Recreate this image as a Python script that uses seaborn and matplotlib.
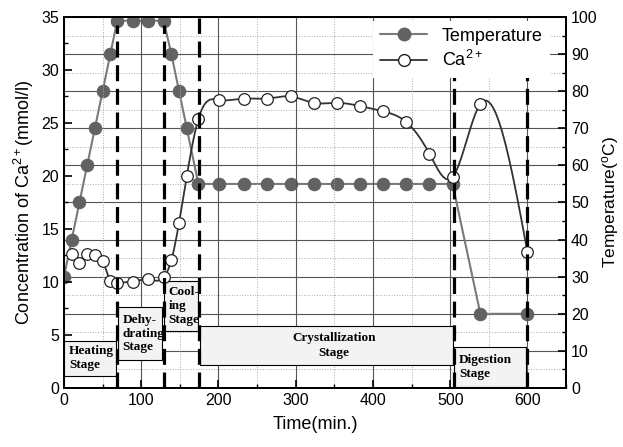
import matplotlib as mpl
import matplotlib.pyplot as plt
import numpy as np
import pandas as pd
import seaborn as sns
from matplotlib.lines import Line2D
from matplotlib.patches import Rectangle
from matplotlib.ticker import MultipleLocator

mpl.use('Agg')

# temperature values (right axis, degC)
temp_time = [0, 10, 20, 30, 40, 50, 60, 69, 89, 109, 129, 139, 149, 159, 174,
             201, 233, 263, 294, 323, 354, 383, 413, 443, 473, 503, 539, 600]
temp_value = [30, 40, 50, 60, 70, 80, 90, 99, 99, 99, 99, 90, 80, 70, 55,
              55, 55, 55, 55, 55, 55, 55, 55, 55, 55, 55, 20, 20]

# Ca2+ concentration (left axis, mmol/l)
ca_time = [10, 20, 30, 40, 50, 60, 69, 89, 109, 129, 139, 149, 159, 174,
           201, 233, 263, 294, 323, 354, 383, 413, 443, 473, 503, 539, 600]
ca_value = [12.6, 11.8, 12.6, 12.55, 12.0, 10.1, 9.87, 10.03, 10.25, 10.44, 12.07, 15.6, 20.0, 25.4,
            27.17, 27.3, 27.3, 27.5, 26.9, 26.9, 26.6, 26.1, 25.1, 22.1, 19.9, 26.8, 12.8]

# process stages (min.)
stage_edges = [0, 69, 129, 175, 505, 600]
stage_names = ['Heating\nStage', 'Dehy-\ndrating\nStage', 'Cool-\ning\nStage',
               'Crystallization\nStage', 'Digestion\nStage']


def natural_spline(x, y, n=600):
    """Natural cubic spline through the points, used only to draw a smooth line."""
    x = np.asarray(x, float)
    y = np.asarray(y, float)
    h = np.diff(x)
    m = len(x)
    A = np.zeros((m, m))
    r = np.zeros(m)
    A[0, 0] = A[-1, -1] = 1
    for i in range(1, m - 1):
        A[i, i - 1] = h[i - 1]
        A[i, i] = 2 * (h[i - 1] + h[i])
        A[i, i + 1] = h[i]
        r[i] = 3 * ((y[i + 1] - y[i]) / h[i] - (y[i] - y[i - 1]) / h[i - 1])
    c = np.linalg.solve(A, r)
    xs = np.linspace(x[0], x[-1], n)
    k = np.clip(np.searchsorted(x, xs) - 1, 0, m - 2)
    dx = xs - x[k]
    b = (y[k + 1] - y[k]) / h[k] - h[k] * (2 * c[k] + c[k + 1]) / 3
    d = (c[k + 1] - c[k]) / (3 * h[k])
    return xs, y[k] + b * dx + c[k] * dx ** 2 + d * dx ** 3


sns.set_style('ticks')
plt.rcParams['font.family'] = ['Liberation Sans', 'DejaVu Sans']
plt.rcParams['mathtext.fontset'] = 'custom'
plt.rcParams['mathtext.rm'] = 'Liberation Sans'
plt.rcParams['mathtext.it'] = 'Liberation Sans:italic'
plt.rcParams['xtick.direction'] = 'in'
plt.rcParams['ytick.direction'] = 'in'
for key in ('text.color', 'axes.labelcolor', 'xtick.color', 'ytick.color'):
    plt.rcParams[key] = 'black'

fig = plt.figure(figsize=(6.23, 4.47), dpi=100)
ax = fig.add_axes([0.1027, 0.132, 0.806, 0.830])
ax2 = ax.twinx()
# left axis (Ca2+, boxes, dashed lines) drawn above the right one
ax.set_zorder(ax2.get_zorder() + 1)
ax.patch.set_visible(False)

# temperature on right axis
temp_df = pd.DataFrame({'time': temp_time, 'temp': temp_value})
sns.lineplot(data=temp_df, x='time', y='temp', ax=ax2, color='#7a7a7a', linewidth=1.5,
             marker='o', markersize=9, markerfacecolor='#626262', markeredgecolor='#626262',
             estimator=None, sort=False)

# Ca2+ smooth line and points on left axis
xs, ys = natural_spline(ca_time, ca_value)
ca_line = pd.DataFrame({'time': xs, 'ca': ys})
ca_df = pd.DataFrame({'time': ca_time, 'ca': ca_value})
sns.lineplot(data=ca_line, x='time', y='ca', ax=ax, color='#333333', linewidth=1.3,
             estimator=None, sort=False, zorder=3)
sns.scatterplot(data=ca_df, x='time', y='ca', ax=ax, s=70, color='white',
                edgecolor='#222222', linewidth=0.9, zorder=4)

# stage boxes
box_y = [(1.13, 4.46), (2.64, 7.64), (5.4, 10.1), (2.17, 5.85), (0.05, 3.9)]
for i, name in enumerate(stage_names):
    x0 = stage_edges[i] + 0.5
    x1 = stage_edges[i + 1] - 1.5
    y0, y1 = box_y[i]
    ax.add_patch(Rectangle((x0, y0), x1 - x0, y1 - y0, facecolor='#f3f3f3',
                           edgecolor='black', linewidth=0.8, zorder=2))
    if i == 3:
        ax.text((x0 + x1) / 2 + 10, (y0 + y1) / 2, name, ha='center', va='center',
                family='Liberation Serif', weight='bold', fontsize=9.5,
                linespacing=1.25, zorder=2.5)
    else:
        ax.text(x0 + 6, (y0 + y1) / 2, name, ha='left', va='center',
                family='Liberation Serif', weight='bold', fontsize=9.5,
                linespacing=1.2, zorder=2.5)

# stage boundaries
dash_top = [34.2, 34.2, 34.9, 29.4, 32.0]
for x, top in zip(stage_edges[1:], dash_top):
    ax.plot([x, x], [0, top], color='black', linewidth=2.3, dashes=(5, 2.4), zorder=5)

# axes limits and ticks
ax.set_xlim(0, 650)
ax.set_ylim(0, 35)
ax2.set_ylim(0, 100)
ax.xaxis.set_major_locator(MultipleLocator(100))
ax.xaxis.set_minor_locator(MultipleLocator(50))
ax.yaxis.set_major_locator(MultipleLocator(5))
ax.yaxis.set_minor_locator(MultipleLocator(2.5))
ax2.yaxis.set_major_locator(MultipleLocator(10))
ax2.yaxis.set_minor_locator(MultipleLocator(5))
for a in (ax, ax2):
    a.tick_params(which='major', length=6, width=1.2, labelsize=11.5, color='black',
                  labelcolor='black')
    a.tick_params(which='minor', length=3, width=1.0, color='black')
    for sp in a.spines.values():
        sp.set_linewidth(1.4)
        sp.set_color('black')
ax.tick_params(axis='x', which='both', top=False)

# grid: vertical on left axes, horizontal on right axes
ax.set_axisbelow(True)
ax.grid(axis='x', which='major', color='#555555', linewidth=0.8, linestyle='-')
ax.grid(axis='x', which='minor', color='#aaaaaa', linewidth=0.7, linestyle=':')
ax2.grid(axis='y', which='major', color='#555555', linewidth=0.8, linestyle='-')
ax2.grid(axis='y', which='minor', color='#aaaaaa', linewidth=0.7, linestyle=':')

ax.set_xlabel('Time(min.)', fontsize=13, labelpad=6)
ax.set_ylabel('Concentration of Ca$^{2+}$(mmol/l)', fontsize=13, labelpad=4)
ax2.set_ylabel('Temperature($^{\\rm o}$C)', fontsize=12.5, labelpad=2)

handles = [Line2D([], [], color='#7a7a7a', linewidth=1.5, marker='o', markersize=9,
                  markerfacecolor='#626262', markeredgecolor='#626262'),
           Line2D([], [], color='#333333', linewidth=1.3, marker='o', markersize=8.5,
                  markerfacecolor='white', markeredgecolor='#222222')]
leg = ax.legend(handles, ['Temperature', 'Ca$^{2+}$'], loc='upper right',
                bbox_to_anchor=(0.975, 1.0), fontsize=13, frameon=True, framealpha=1,
                handlelength=2.6, borderaxespad=0.2, labelspacing=0.3)
leg.get_frame().set_edgecolor('none')
leg.get_frame().set_facecolor('white')
leg.get_frame().set_boxstyle('square', pad=0)
leg.set_zorder(10)

plt.savefig('out.png', dpi=100)
plt.close()
